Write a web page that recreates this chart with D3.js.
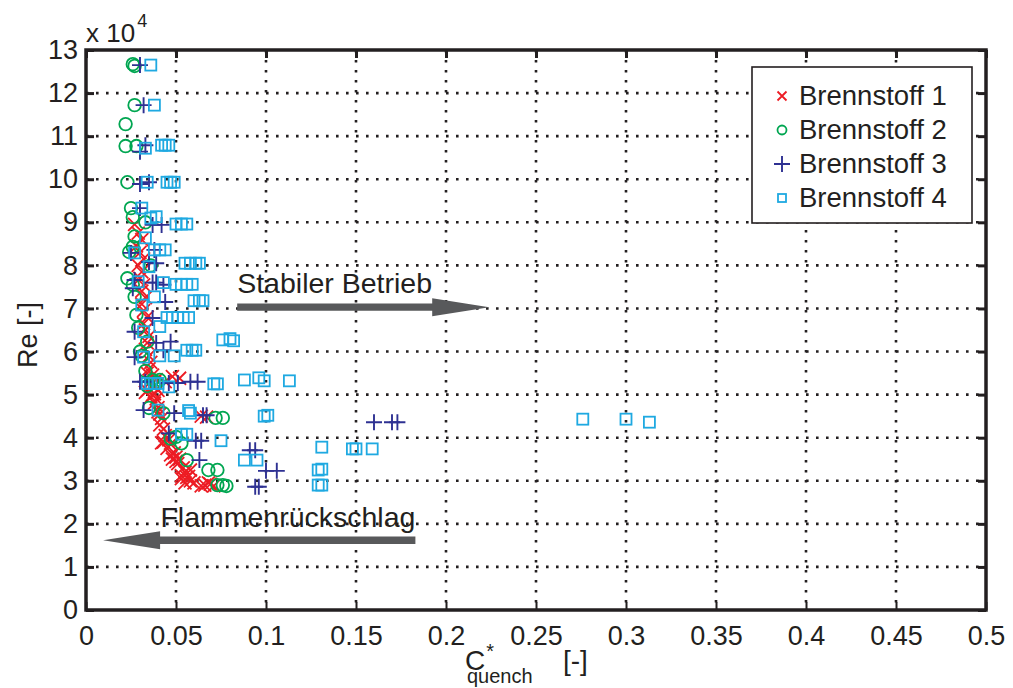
<!DOCTYPE html>
<html>
<head>
<meta charset="utf-8">
<script src="https://cdn.jsdelivr.net/npm/d3@7"></script>
<style>
  body { margin: 0; background: #fff; }
  svg text { font-family: "Liberation Sans", Arial, Helvetica, sans-serif; fill: #231f20; }
</style>
</head>
<body>
<div id="chart"></div>
<script>
// C*_quench vs Re (in units of 1e4)
var fuel1 = [[0.027,8.95],[0.029,8.75],[0.031,8.6],[0.028,8.45],[0.030,8.3],[0.032,8.15],[0.029,8.0],[0.031,7.85],[0.030,7.7],[0.032,7.55],
  [0.031,7.4],[0.033,7.25],[0.031,7.1],[0.032,6.95],[0.034,6.8],[0.032,6.65],[0.033,6.5],[0.035,6.35],[0.034,6.2],[0.033,6.05],
  [0.035,5.9],[0.036,5.75],[0.035,5.6],[0.037,5.45],[0.036,5.3],[0.038,5.2],[0.034,5.1],[0.037,5.0],[0.039,4.9],[0.038,4.8],
  [0.040,4.7],[0.041,4.55],[0.042,4.45],[0.041,4.3],[0.043,4.2],[0.044,4.05],[0.046,3.95],[0.042,3.88],[0.047,3.85],[0.045,3.75],
  [0.049,3.65],[0.050,3.55],[0.052,3.5],[0.051,3.4],[0.054,3.3],[0.058,3.25],[0.053,3.12],[0.056,3.08],[0.058,3.0],[0.055,2.95],
  [0.066,2.9],[0.069,2.92],[0.071,2.88],[0.048,5.42],[0.052,5.38],[0.044,5.3],[0.064,4.5],[0.067,4.48],[0.040,5.1],[0.036,4.95],
  [0.033,5.05],[0.038,5.02],[0.040,4.6],[0.043,3.9],[0.048,3.5],[0.050,3.45],[0.055,3.2],[0.057,3.1],[0.060,2.95],[0.068,2.95],
  [0.064,2.88],[0.053,3.05],[0.039,5.35],[0.034,5.5],[0.045,4.0],[0.047,3.6]];

var fuel2 = [[0.026,12.67],[0.027,12.63],[0.027,11.72],[0.022,11.28],[0.022,10.77],[0.028,10.77],[0.023,9.93],[0.025,9.33],[0.026,9.12],[0.033,9.0],
  [0.027,8.67],[0.026,8.43],[0.024,8.31],[0.036,8.0],[0.023,7.7],[0.026,7.55],[0.027,7.27],[0.028,6.85],[0.029,6.55],[0.034,6.23],
  [0.030,6.0],[0.033,5.55],[0.037,5.34],[0.041,5.34],[0.039,5.28],[0.035,4.69],[0.043,4.57],[0.050,4.02],[0.047,3.98],[0.053,3.87],
  [0.056,3.48],[0.072,4.46],[0.076,4.46],[0.068,3.25],[0.073,3.25],[0.073,2.9],[0.076,2.9],[0.078,2.88],[0.031,5.9],[0.034,5.2]];

var fuel3 = [[0.030,12.65],[0.032,11.72],[0.030,10.64],[0.033,10.79],[0.030,9.89],[0.035,9.93],[0.030,9.33],[0.037,8.94],[0.042,8.94],[0.025,8.29],
  [0.038,8.36],[0.035,8.08],[0.039,8.05],[0.027,7.66],[0.026,7.47],[0.037,7.6],[0.039,7.6],[0.043,7.55],[0.044,7.15],[0.037,6.78],
  [0.027,6.46],[0.047,6.23],[0.039,6.2],[0.027,5.87],[0.043,6.03],[0.030,5.3],[0.033,5.3],[0.046,5.27],[0.051,5.27],[0.062,5.3],
  [0.058,5.3],[0.032,4.64],[0.049,4.57],[0.065,4.52],[0.067,4.52],[0.046,4.1],[0.061,3.93],[0.064,3.93],[0.063,3.48],[0.091,3.71],
  [0.094,3.71],[0.100,3.23],[0.106,3.23],[0.094,2.86],[0.096,2.86],[0.160,4.36],[0.170,4.36],[0.173,4.36]];

var fuel4 = [[0.036,12.65],[0.038,11.72],[0.033,10.72],[0.042,10.79],[0.044,10.79],[0.046,10.79],[0.034,9.93],[0.045,9.93],[0.047,9.93],[0.049,9.93],
  [0.031,9.33],[0.036,9.1],[0.039,9.13],[0.050,8.96],[0.053,8.96],[0.056,8.96],[0.033,8.64],[0.027,8.29],[0.038,8.36],[0.041,8.36],
  [0.044,8.36],[0.035,7.97],[0.055,8.05],[0.058,8.05],[0.061,8.05],[0.063,8.05],[0.029,7.62],[0.043,7.6],[0.050,7.56],[0.053,7.56],
  [0.056,7.56],[0.059,7.56],[0.038,7.27],[0.031,7.08],[0.060,7.18],[0.063,7.18],[0.065,7.18],[0.045,6.79],[0.048,6.79],[0.051,6.79],
  [0.054,6.79],[0.057,6.79],[0.041,6.58],[0.032,6.46],[0.076,6.27],[0.080,6.3],[0.082,6.25],[0.056,6.03],[0.059,6.03],[0.061,6.03],
  [0.041,5.9],[0.049,5.9],[0.032,5.87],[0.034,5.26],[0.036,5.26],[0.038,5.26],[0.040,5.26],[0.046,5.18],[0.071,5.25],[0.073,5.25],
  [0.088,5.34],[0.096,5.39],[0.099,5.32],[0.113,5.32],[0.040,4.64],[0.057,4.63],[0.058,4.57],[0.099,4.5],[0.101,4.52],[0.053,4.08],
  [0.056,4.08],[0.075,3.93],[0.088,3.48],[0.095,3.48],[0.131,3.78],[0.148,3.74],[0.150,3.74],[0.159,3.74],[0.129,3.25],[0.131,3.27],
  [0.129,2.9],[0.131,2.9],[0.276,4.43],[0.300,4.43],[0.313,4.36]];

var seriesNames = ["Brennstoff 1", "Brennstoff 2", "Brennstoff 3", "Brennstoff 4"];
var xTicks = [0, 0.05, 0.1, 0.15, 0.2, 0.25, 0.3, 0.35, 0.4, 0.45, 0.5];
var yTicks = [0, 1, 2, 3, 4, 5, 6, 7, 8, 9, 10, 11, 12, 13];
// arrows: [x from, x to, Re]
var arrowStable = [0.084, 0.224, 7.03];
var arrowBack = [0.183, 0.0095, 1.62];

function init() {
    var w = 1013, h = 688;
    var svg = d3.select("#chart").append("svg").attr("width", w).attr("height", h);

    var xScale = d3.scaleLinear().domain([0, 0.5]).range([86, 986]);
    var yScale = d3.scaleLinear().domain([0, 13]).range([610, 50]);

    var colors = ["#ed1c24", "#00a651", "#2e3192", "#1fa9e1"];
    var shapes = ["x", "o", "+", "s"];

    // dotted grid
    var grid = svg.append("g");
    grid.selectAll(".gx").data(xTicks.slice(1, -1)).enter().append("line")
        .attr("x1", d => xScale(d)).attr("x2", d => xScale(d))
        .attr("y1", yScale(13)).attr("y2", yScale(0))
        .attr("stroke", "#231f20").attr("stroke-width", 2.6).attr("stroke-dasharray", "2.6,7.4");
    grid.selectAll(".gy").data(yTicks.slice(1, -1)).enter().append("line")
        .attr("y1", d => yScale(d)).attr("y2", d => yScale(d))
        .attr("x1", xScale(0)).attr("x2", xScale(0.5))
        .attr("stroke", "#231f20").attr("stroke-width", 2.6).attr("stroke-dasharray", "2.6,7.4");

    // markers
    function marker(g, shape, color) {
        if (shape == "x") {
            g.append("path").attr("d", "M-6.5,-6.5L6.5,6.5M-6.5,6.5L6.5,-6.5").attr("stroke", color).attr("stroke-width", 1.8).attr("fill", "none");
        } else if (shape == "o") {
            g.append("circle").attr("r", 6.3).attr("stroke", color).attr("stroke-width", 1.8).attr("fill", "none");
        } else if (shape == "+") {
            g.append("path").attr("d", "M-8,0L8,0M0,-8L0,8").attr("stroke", color).attr("stroke-width", 1.9).attr("fill", "none");
        } else {
            g.append("rect").attr("x", -5.5).attr("y", -5.5).attr("width", 11).attr("height", 11)
                .attr("stroke", color).attr("stroke-width", 1.8).attr("fill", "none");
        }
    }

    [fuel1, fuel2, fuel3, fuel4].forEach(function (data, i) {
        svg.append("g").selectAll("g").data(data).enter().append("g")
            .attr("transform", d => "translate(" + xScale(d[0]) + "," + yScale(d[1]) + ")")
            .each(function () { marker(d3.select(this), shapes[i], colors[i]); });
    });

    // frame and ticks
    svg.append("rect").attr("x", xScale(0)).attr("y", yScale(13))
        .attr("width", xScale(0.5) - xScale(0)).attr("height", yScale(0) - yScale(13))
        .attr("fill", "none").attr("stroke", "#231f20").attr("stroke-width", 3.5);

    var xAxis = d3.axisBottom(xScale).tickValues(xTicks).tickSize(-8).tickPadding(16)
        .tickFormat(d => d3.format("")(+d.toFixed(2)));
    var gx = svg.append("g").attr("transform", "translate(0," + yScale(0) + ")").call(xAxis);
    var gxTop = svg.append("g").attr("transform", "translate(0," + yScale(13) + ")")
        .call(d3.axisTop(xScale).tickValues(xTicks).tickSize(-8).tickFormat(""));
    var yAxis = d3.axisLeft(yScale).tickValues(yTicks).tickSize(-8).tickPadding(8);
    var gy = svg.append("g").attr("transform", "translate(" + xScale(0) + ",0)").call(yAxis);
    var gyR = svg.append("g").attr("transform", "translate(" + xScale(0.5) + ",0)")
        .call(d3.axisRight(yScale).tickValues(yTicks).tickSize(-8).tickFormat(""));
    [gx, gxTop, gy, gyR].forEach(function (g) {
        g.select(".domain").remove();
        g.selectAll(".tick line").attr("stroke", "#231f20").attr("stroke-width", 3);
        g.selectAll(".tick text").attr("font-size", 27).attr("fill", "#231f20")
            .style("font-family", "'Liberation Sans', Arial, sans-serif");
    });
    gx.selectAll(".tick line").attr("stroke-width", 2);

    // exponent
    var ex = svg.append("text").attr("x", 86).attr("y", 42).attr("font-size", 26);
    ex.append("tspan").text("x 10");
    ex.append("tspan").attr("font-size", 18).attr("dx", 2).attr("dy", -15).text("4");

    // axis labels
    svg.append("text").attr("transform", "translate(37,335) rotate(-90)")
        .attr("text-anchor", "middle").attr("font-size", 27).text("Re [-]");
    var xl = svg.append("text").attr("x", 465).attr("y", 670).attr("font-size", 28);
    xl.append("tspan").text("C");
    xl.append("tspan").attr("font-size", 20).attr("dx", 1).attr("dy", -12).text("*");
    xl.append("tspan").attr("x", 467).attr("dy", 25).attr("font-size", 20).text("quench");
    svg.append("text").attr("x", 563).attr("y", 670).attr("font-size", 28).text("[-]");

    // annotation arrows
    function arrow(a) {
        var x0 = xScale(a[0]), x1 = xScale(a[1]), y = yScale(a[2]);
        var dir = x1 > x0 ? 1 : -1;
        var hx = x1 - dir * 57;
        svg.append("path")
            .attr("d", "M" + x0 + "," + (y - 3.7) + "L" + hx + "," + (y - 3.7) + "L" + hx + "," + (y - 9)
                + "L" + x1 + "," + y + "L" + hx + "," + (y + 9) + "L" + hx + "," + (y + 3.7) + "L" + x0 + "," + (y + 3.7) + "Z")
            .attr("fill", "#58595b");
    }
    arrow(arrowStable);
    arrow(arrowBack);
    svg.append("text").attr("x", xScale(arrowStable[0])).attr("y", yScale(arrowStable[2]) - 14)
        .attr("font-size", 28.5).text("Stabiler Betrieb");
    svg.append("text").attr("x", xScale(arrowBack[0])).attr("y", yScale(arrowBack[2]) - 13)
        .attr("text-anchor", "end").attr("font-size", 28.5).text("Flammenrückschlag");

    // legend
    var lg = svg.append("g").attr("transform", "translate(752,67)");
    lg.append("rect").attr("width", 220).attr("height", 156).attr("fill", "#fff")
        .attr("stroke", "#231f20").attr("stroke-width", 1.6);
    seriesNames.forEach(function (name, i) {
        var row = lg.append("g").attr("transform", "translate(30," + (29 + i * 34) + ")");
        var m = row.append("g");
        marker(m, shapes[i], colors[i]);
        if (shapes[i] == "o") m.select("circle").attr("r", 4.5);
        if (shapes[i] == "s") m.select("rect").attr("x", -4).attr("y", -4).attr("width", 8).attr("height", 8);
        if (shapes[i] == "x") m.select("path").attr("d", "M-4.5,-4.5L4.5,4.5M-4.5,4.5L4.5,-4.5").attr("stroke-width", 1.8);
        row.append("text").attr("x", 17).attr("y", 9).attr("font-size", 27.5).text(name);
    });
}
window.onload = init;
</script>
</body>
</html>
